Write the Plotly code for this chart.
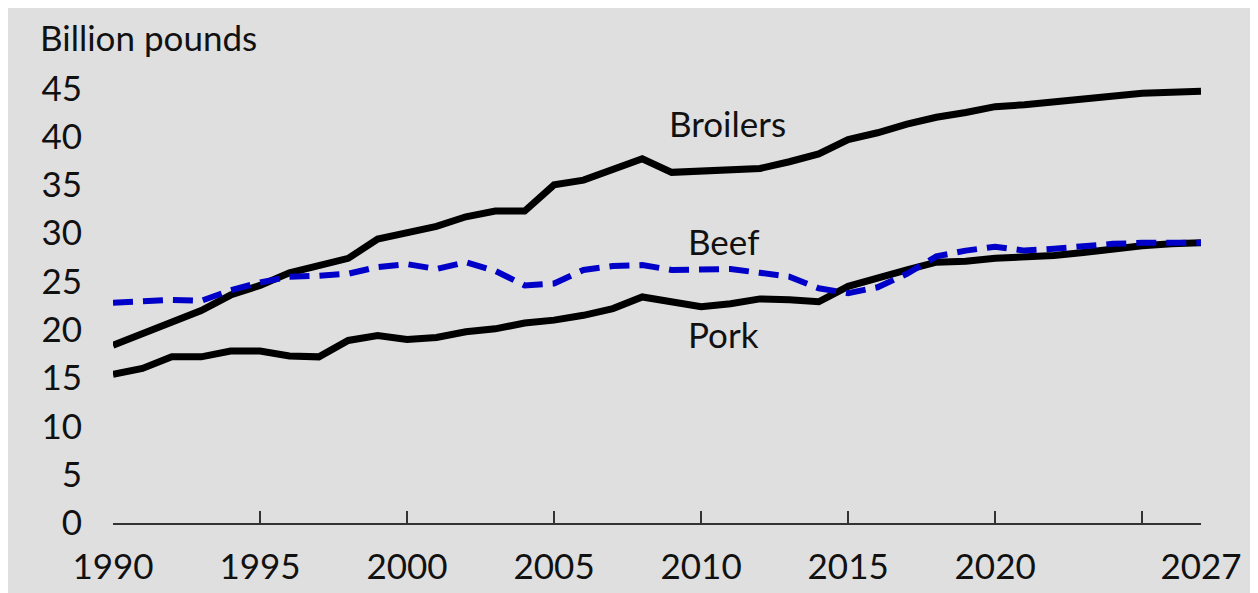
import plotly.graph_objects as go

years = list(range(1990, 2028))

broilers = [18.4, 19.6, 20.9, 22.0, 23.6, 24.6, 25.9, 26.7, 27.4, 29.4, 30.0,
            30.7, 31.7, 32.3, 32.3, 35.0, 35.5, 36.6, 37.7, 36.3, 36.4, 36.6,
            36.7, 37.4, 38.2, 39.7, 40.4, 41.3, 42.0, 42.5, 43.1, 43.3, 43.6,
            43.9, 44.2, 44.5, 44.6, 44.7]

beef = [22.8, 23.0, 23.1, 23.0, 24.1, 24.9, 25.5, 25.6, 25.8, 26.5, 26.8,
        26.3, 27.0, 26.1, 24.6, 24.8, 26.2, 26.6, 26.7, 26.2, 26.3, 26.3,
        25.9, 25.5, 24.3, 23.8, 24.4, 25.8, 27.6, 28.2, 28.6, 28.2, 28.4,
        28.7, 28.9, 29.0, 29.0, 29.0]

pork = [15.4, 16.0, 17.2, 17.2, 17.8, 17.8, 17.3, 17.2, 18.9, 19.4, 19.0,
        19.2, 19.8, 20.1, 20.7, 21.0, 21.5, 22.2, 23.4, 22.9, 22.4, 22.7,
        23.2, 23.1, 22.9, 24.5, 25.4, 26.2, 27.0, 27.1, 27.4, 27.5, 27.7,
        28.0, 28.4, 28.7, 28.9, 29.0]

tick_mark_years = [1990, 1995, 2000, 2005, 2010, 2015, 2020, 2025]
label_years = [1990, 1995, 2000, 2005, 2010, 2015, 2020, 2027]
label_texts = ["1990", "1995", "2000", "2005", "2010", "2015", "2020", "2027"]
y_ticks = [0, 5, 10, 15, 20, 25, 30, 35, 40, 45]

series_labels = [("Broilers", 2010.9, 41.4), ("Beef", 2010.75, 29.2), ("Pork", 2010.75, 19.6)]

FONT = "Lato"
FS = 35
W, H = 1258, 593
ML, MR, MT, MB = 105, 65, 61, 78
pw = W - ML - MR
ph = H - MT - MB

fig = go.Figure()
fig.add_trace(go.Scatter(x=years, y=broilers, mode="lines", name="Broilers",
                         line=dict(color="black", width=7)))
fig.add_trace(go.Scatter(x=years, y=pork, mode="lines", name="Pork",
                         line=dict(color="black", width=7)))
fig.add_trace(go.Scatter(x=years, y=beef, mode="lines", name="Beef",
                         line=dict(color="#0000c8", width=6, dash="20px,10px")))
# invisible trace carrying the label axis
fig.add_trace(go.Scatter(x=[years[0], years[-1]], y=[0, 0], mode="lines", xaxis="x2",
                         line=dict(width=0), hoverinfo="skip", showlegend=False, opacity=0))

for text, xv, yv in series_labels:
    fig.add_annotation(x=xv, y=yv, text=text, showarrow=False, xanchor="center", yanchor="middle",
                       font=dict(family=FONT, size=FS, color="#111111"))

fig.add_annotation(xref="paper", yref="paper", x=(30 - ML) / pw, y=(H - MB - 29) / ph,
                   text="Billion pounds", showarrow=False, xanchor="left", yanchor="middle",
                   font=dict(family=FONT, size=FS, color="#111111"))

fig.update_layout(
    width=W, height=H,
    margin=dict(l=ML, r=MR, t=MT, b=MB),
    paper_bgcolor="#dfdfdf", plot_bgcolor="#dfdfdf",
    showlegend=False,
    font=dict(family=FONT, size=FS, color="#111111"),
    xaxis=dict(range=[1990, 2027], tickmode="array", tickvals=tick_mark_years,
               showticklabels=False, ticks="inside", ticklen=12, tickwidth=2, tickcolor="#333333",
               showline=True, linecolor="#333333", linewidth=2, showgrid=False, zeroline=False),
    xaxis2=dict(range=[1990, 2027], overlaying="x", anchor="y", side="bottom",
                tickmode="array", tickvals=label_years, ticktext=label_texts, ticks="",
                ticklabelstandoff=20, showline=False, showgrid=False, zeroline=False,
                tickfont=dict(family=FONT, size=FS, color="#111111")),
    yaxis=dict(range=[0, 47], tickmode="array", tickvals=y_ticks, ticks="",
               ticklabelstandoff=30, showline=False, showgrid=False, zeroline=False,
               tickfont=dict(family=FONT, size=FS, color="#111111")),
)

fig.write_html("out.html")
